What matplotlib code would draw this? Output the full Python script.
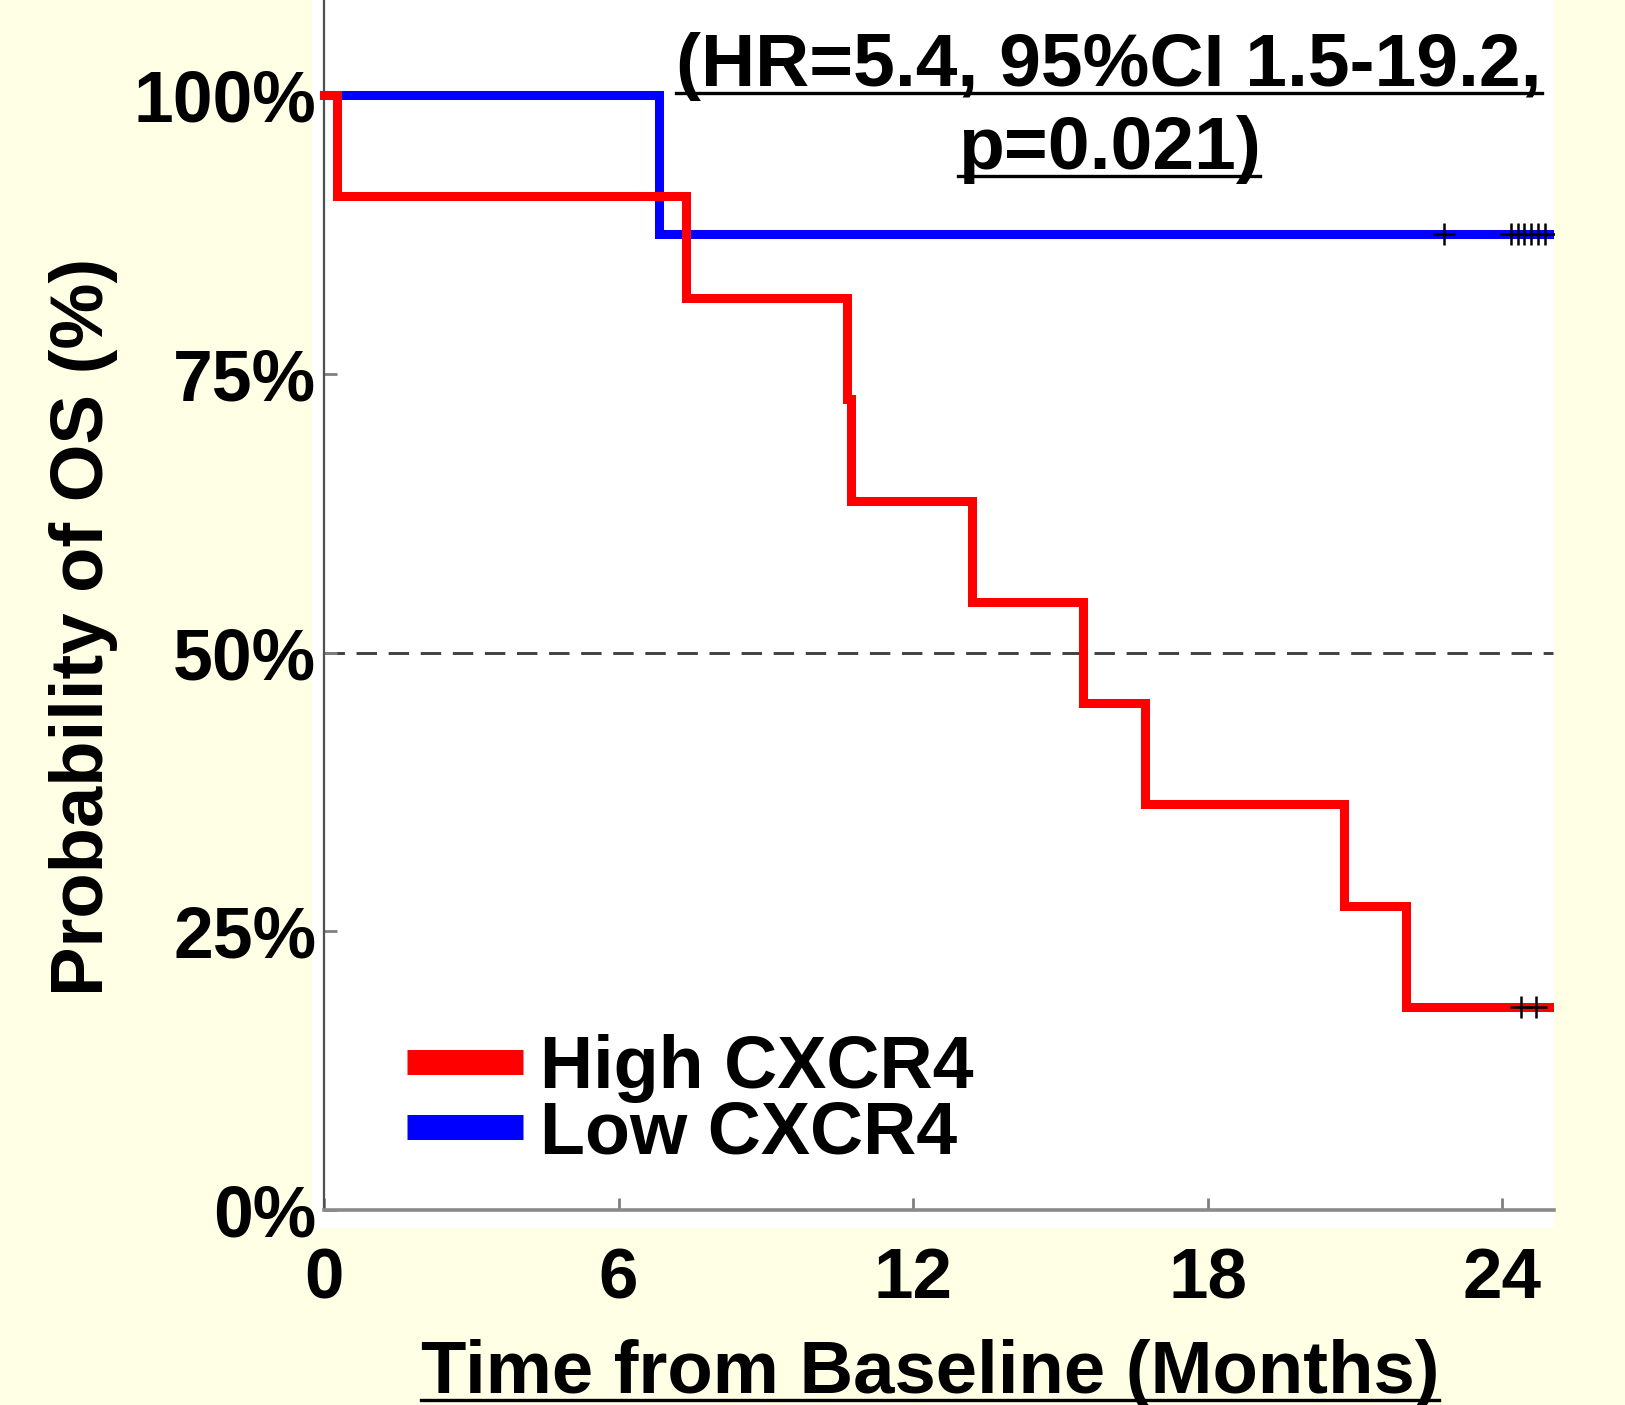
import matplotlib
matplotlib.use("Agg")
import matplotlib.pyplot as plt
import numpy as np
from matplotlib.lines import Line2D

plt.rcParams['font.family'] = ['Liberation Sans', 'DejaVu Sans']
plt.rcParams['font.weight'] = 'bold'

# ---------------- data ----------------
high_times = [0.0, 0.27, 7.37, 10.66, 10.74, 13.19, 15.45, 16.72, 20.77, 22.03, 25.03]
high_surv = [100.0, 90.9, 81.8, 72.7, 63.6, 54.5, 45.5, 36.4, 27.3, 18.2, 18.2]
high_censor = [24.38, 24.68]

low_times = [0.0, 6.82, 25.03]
low_surv = [100.0, 87.5, 87.5]
low_censor = [22.81, 24.17, 24.31, 24.45, 24.59, 24.73, 24.87]

series_labels = ["High CXCR4", "Low CXCR4"]
x_ticks = [0, 6, 12, 18, 24]
y_ticks = [0, 25, 50, 75, 100]
y_tick_labels = ["0%", "25%", "50%", "75%", "100%"]
median_level = 50
annot_line1 = "(HR=5.4, 95%CI 1.5-19.2,"
annot_line2 = "p=0.021)"
x_label = "Time from Baseline (Months)"
y_label = "Probability of OS (%)"

# ---------------- figure ----------------
W, H = 1625, 1405
BG = "#FFFFE5"
fig = plt.figure(figsize=(W / 100, H / 100), dpi=100, facecolor=BG)

# axes (white area) in pixel coords
ax_l, ax_r, ax_t, ax_b = 312, 1554, 0, 1228
ax = fig.add_axes([ax_l / W, 1 - ax_b / H, (ax_r - ax_l) / W, (ax_b - ax_t) / H])
ax.set_facecolor("white")

x0_px, px_per_month = 324, 49.1
y0_px, px_per_pct = 1210, 11.15
ax.set_xlim(-(x0_px - ax_l) / px_per_month, (ax_r - x0_px) / px_per_month)
ax.set_ylim(-(ax_b - y0_px) / px_per_pct, 100 + (y0_px - 100 * px_per_pct - ax_t) / px_per_pct)


def step_value(times, surv, t):
    idx = np.searchsorted(times, t, side="right") - 1
    return np.asarray(surv)[idx]


# reference line
ax.hlines(median_level, 0, high_times[-1], colors="#404040", linestyles=(0, (7, 4)), lw=2.1, zorder=1)

# curves
ax.plot(low_times, low_surv, drawstyle="steps-post", color="#0000FF", lw=6.5, solid_joinstyle="miter", zorder=3)
ax.plot(high_times, high_surv, drawstyle="steps-post", color="#FF0000", lw=6.5, solid_joinstyle="miter", zorder=4)

# censor marks
ax.plot(low_censor, step_value(low_times, low_surv, low_censor), ls="none", marker="+",
        ms=16, mew=1.8, color="black", zorder=5)
ax.plot(high_censor, step_value(high_times, high_surv, high_censor), ls="none", marker="+",
        ms=16, mew=1.8, color="black", zorder=5)

# spines
for s in ["top", "right"]:
    ax.spines[s].set_visible(False)
ax.spines["left"].set_position(("data", 0))
ax.spines["left"].set_bounds(0, ax.get_ylim()[1])
ax.spines["left"].set_color("#505050")
ax.spines["left"].set_linewidth(1.6)
ax.spines["bottom"].set_position(("data", 0))
ax.spines["bottom"].set_bounds(0, ax.get_xlim()[1])
ax.spines["bottom"].set_color("#8a8a8a")
ax.spines["bottom"].set_linewidth(2.6)

ax.set_xticks(x_ticks)
ax.set_xticklabels([str(t) for t in x_ticks])
ax.set_yticks(y_ticks)
ax.set_yticklabels(y_tick_labels)
ax.tick_params(axis="x", direction="in", length=9, width=2, color="#808080",
               labelsize=51, pad=27)
ax.tick_params(axis="y", direction="in", length=9, width=2, color="#808080",
               labelsize=51.5, pad=5.5)
for lab in ax.get_xticklabels() + ax.get_yticklabels():
    lab.set_fontweight("bold")

# legend
handles = [Line2D([], [], color="#FF0000", lw=18, solid_capstyle="butt"),
           Line2D([], [], color="#0000FF", lw=18, solid_capstyle="butt")]
leg = ax.legend(handles, series_labels, loc="center left",
                bbox_to_anchor=(407 / W, 1 - 1101 / H), bbox_transform=fig.transFigure,
                frameon=False, prop={"size": 53, "weight": "bold"},
                handlelength=1.58, handletextpad=0.22, borderpad=0, borderaxespad=0,
                labelspacing=-0.05)

# texts
t1 = fig.text(1109 / W, 1 - 86 / H, annot_line1, ha="center", va="baseline",
              fontsize=54, fontweight="bold")
t2 = fig.text(1109 / W, 1 - 169 / H, annot_line2, ha="center", va="baseline",
              fontsize=54, fontweight="bold")
tx = fig.text(930 / W, 1 - 1393 / H, x_label, ha="center", va="baseline",
              fontsize=53.6, fontweight="bold")
fig.text(84 / W, 1 - 627 / H, y_label, ha="center", va="center", rotation=90,
         fontsize=53.5, fontweight="bold")

# underlines
fig.canvas.draw()
renderer = fig.canvas.get_renderer()
for t, base_px in [(t1, 86), (t2, 169), (tx, 1393)]:
    bb = t.get_window_extent(renderer)
    y = 1 - (base_px + 7) / H
    fig.add_artist(Line2D([bb.x0 / W, bb.x1 / W], [y, y], transform=fig.transFigure,
                          color="black", lw=2.4))

fig.savefig("out.png", dpi=100, facecolor=BG)
